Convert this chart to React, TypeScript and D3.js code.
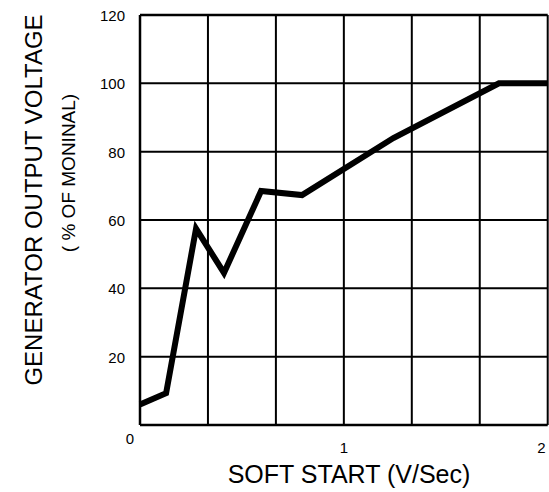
import React from "react";
import * as d3 from "d3";

const softStart: number[] = [0, 0.128, 0.275, 0.412, 0.594, 0.795, 1.243, 1.761, 2];
const outputVoltage: number[] = [6, 9.3, 57.5, 44.5, 68.5, 67.3, 84, 100, 100];
const xGridValues: number[] = [0, 1 / 3, 2 / 3, 1, 4 / 3, 5 / 3, 2];
const yGridValues: number[] = [0, 20, 40, 60, 80, 100, 120];
const yTickLabels: string[] = ["20", "40", "60", "80", "100", "120"];
const yTickValues: number[] = [20, 40, 60, 80, 100, 120];
const xTickValues: number[] = [0, 1, 2];
const xTickLabels: string[] = ["0", "1", "2"];
const xTitle = "SOFT START (V/Sec)";
const yTitleLines: string[] = ["GENERATOR OUTPUT VOLTAGE", "( % OF MONINAL)"];

const W = 549;
const H = 492;
const FONT = "'Liberation Sans', Arial, Helvetica, sans-serif";

export default function App() {
  const x = d3.scaleLinear().domain([0, 2]).range([140, 547.7]);
  const y = d3.scaleLinear().domain([0, 120]).range([425, 15]);
  const line = d3
    .line<number>()
    .x((_, i) => x(softStart[i]))
    .y((d) => y(d));
  const path = line(outputVoltage) || "";

  return (
    <div style={{ position: "absolute", left: 0, top: 0 }}>
      <svg width={W} height={H} style={{ display: "block", background: "#fff" }}>
        <rect x={0} y={0} width={W} height={H} fill="#fff" />
        {xGridValues.map((v, i) => (
          <line
            key={"xg" + i}
            x1={x(v)}
            x2={x(v)}
            y1={y(0)}
            y2={y(120)}
            stroke="#000"
            strokeWidth={i === 0 ? 2.5 : 2}
          />
        ))}
        {yGridValues.map((v, i) => (
          <line
            key={"yg" + i}
            x1={x(0)}
            x2={x(2)}
            y1={y(v)}
            y2={y(v)}
            stroke="#000"
            strokeWidth={i === 0 || v === 120 ? 2.5 : 2}
          />
        ))}
        <path
          d={path}
          fill="none"
          stroke="#000"
          strokeWidth={6}
          strokeLinejoin="miter"
          strokeMiterlimit={10}
        />
        {yTickValues.map((v, i) => (
          <text
            key={"yt" + i}
            x={x(0) - 15}
            y={y(v) + 2}
            textAnchor="end"
            dominantBaseline="middle"
            fontFamily={FONT}
            fontSize={15}
            fill="#000"
          >
            {yTickLabels[i]}
          </text>
        ))}
        {xTickValues.map((v, i) => {
          const anchor = i === 0 ? "end" : i === 2 ? "end" : "middle";
          const dx = i === 0 ? -6 : i === 2 ? -2 : 0;
          const yy = i === 0 ? 444 : 453;
          return (
            <text
              key={"xt" + i}
              x={x(v) + dx}
              y={yy}
              textAnchor={anchor}
              fontFamily={FONT}
              fontSize={15}
              fill="#000"
            >
              {xTickLabels[i]}
            </text>
          );
        })}
        <text
          x={349}
          y={483}
          textAnchor="middle"
          fontFamily={FONT}
          fontSize={25}
          fill="#000"
        >
          {xTitle}
        </text>
        <text
          transform={`translate(42,200) rotate(-90)`}
          textAnchor="middle"
          fontFamily={FONT}
          fontSize={24}
          fill="#000"
        >
          {yTitleLines[0]}
        </text>
        <text
          transform={`translate(75,173) rotate(-90)`}
          textAnchor="middle"
          fontFamily={FONT}
          fontSize={19}
          fill="#000"
        >
          {yTitleLines[1]}
        </text>
      </svg>
    </div>
  );
}
